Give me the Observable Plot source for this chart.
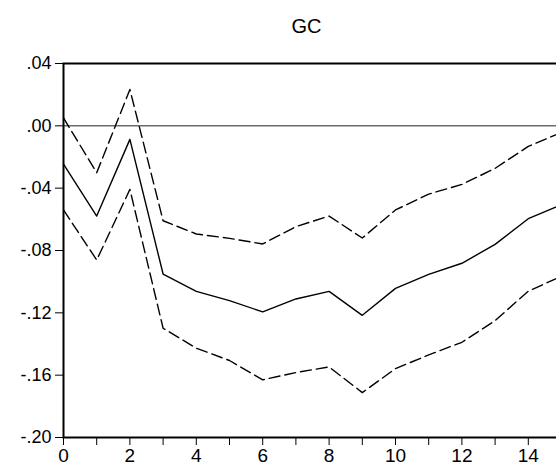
<!DOCTYPE html>
<html>
<head>
<meta charset="utf-8">
<script src="https://cdn.jsdelivr.net/npm/d3@7"></script>
<script src="https://cdn.jsdelivr.net/npm/@observablehq/plot@0.6"></script>
<style>
  html, body { margin: 0; padding: 0; background: #fff; overflow: hidden; }
  #chart svg { display: block; max-width: none; }
</style>
</head>
<body>
<div id="chart"></div>
<script>
const title = "GC";
const periods = [0, 1, 2, 3, 4, 5, 6, 7, 8, 9, 10, 11, 12, 13, 14, 15];
const response = [-0.0245, -0.0579, -0.0087, -0.0951, -0.1062, -0.1122, -0.1194, -0.1111, -0.1062, -0.1216, -0.1043, -0.0953, -0.0882, -0.0761, -0.0596, -0.0506];
const upperBand = [0.0051, -0.0301, 0.0233, -0.0609, -0.0694, -0.0722, -0.0758, -0.0647, -0.0579, -0.0720, -0.0540, -0.0438, -0.0376, -0.0273, -0.0132, -0.0042];
const lowerBand = [-0.0540, -0.0861, -0.0408, -0.1299, -0.1427, -0.1506, -0.1630, -0.1583, -0.1547, -0.1712, -0.1558, -0.1470, -0.1389, -0.1250, -0.1061, -0.0965];
const yTicks = [0.04, 0.00, -0.04, -0.08, -0.12, -0.16, -0.20];
const yTickLabels = [".04", ".00", "-.04", "-.08", "-.12", "-.16", "-.20"];
const xTicks = [0, 1, 2, 3, 4, 5, 6, 7, 8, 9, 10, 11, 12, 13, 14, 15];
const xLabelTicks = [0, 2, 4, 6, 8, 10, 12, 14];
const xTickLabels = ["0", "2", "4", "6", "8", "10", "12", "14"];

const mk = arr => periods.map((p, i) => ({x: p, y: arr[i]}));

const font = "'Liberation Sans', Arial, sans-serif";

const chart = Plot.plot({
  width: 556,
  height: 475,
  marginLeft: 63,
  marginTop: 63,
  marginBottom: 38,
  marginRight: -5,
  style: {fontFamily: font, background: "#fff", color: "#000"},
  x: {domain: [0, 15]},
  y: {domain: [-0.20, 0.04]},
  marks: [
    Plot.ruleY([0], {stroke: "#222", strokeWidth: 1}),
    Plot.line(mk(upperBand), {x: "x", y: "y", stroke: "#000", strokeWidth: 1.4, strokeDasharray: "11,5"}),
    Plot.line(mk(lowerBand), {x: "x", y: "y", stroke: "#000", strokeWidth: 1.4, strokeDasharray: "11,5"}),
    Plot.line(mk(response), {x: "x", y: "y", stroke: "#000", strokeWidth: 1.4}),
    Plot.frame({stroke: "#000", strokeWidth: 2}),
    Plot.axisY({
      ticks: yTicks,
      tickSize: 8,
      tickFormat: () => "",
      label: null,
      stroke: "#000"
    }),
    Plot.axisX({
      ticks: xTicks,
      tickSize: 8,
      tickFormat: () => "",
      label: null,
      stroke: "#000"
    }),
    Plot.text(yTicks, {
      y: d => d,
      text: (d, i) => yTickLabels[i],
      frameAnchor: "left",
      textAnchor: "end",
      dx: -12,
      fontSize: 18,
      fill: "#000"
    }),
    Plot.text(xLabelTicks, {
      x: d => d,
      text: (d, i) => xTickLabels[i],
      frameAnchor: "bottom",
      lineAnchor: "top",
      dy: 11,
      fontSize: 19,
      fill: "#000"
    }),
    Plot.text([title], {
      frameAnchor: "top",
      dx: -6,
      dy: -31,
      lineAnchor: "bottom",
      fontSize: 20,
      fill: "#000"
    })
  ]
});
document.getElementById("chart").appendChild(chart);
</script>
</body>
</html>
